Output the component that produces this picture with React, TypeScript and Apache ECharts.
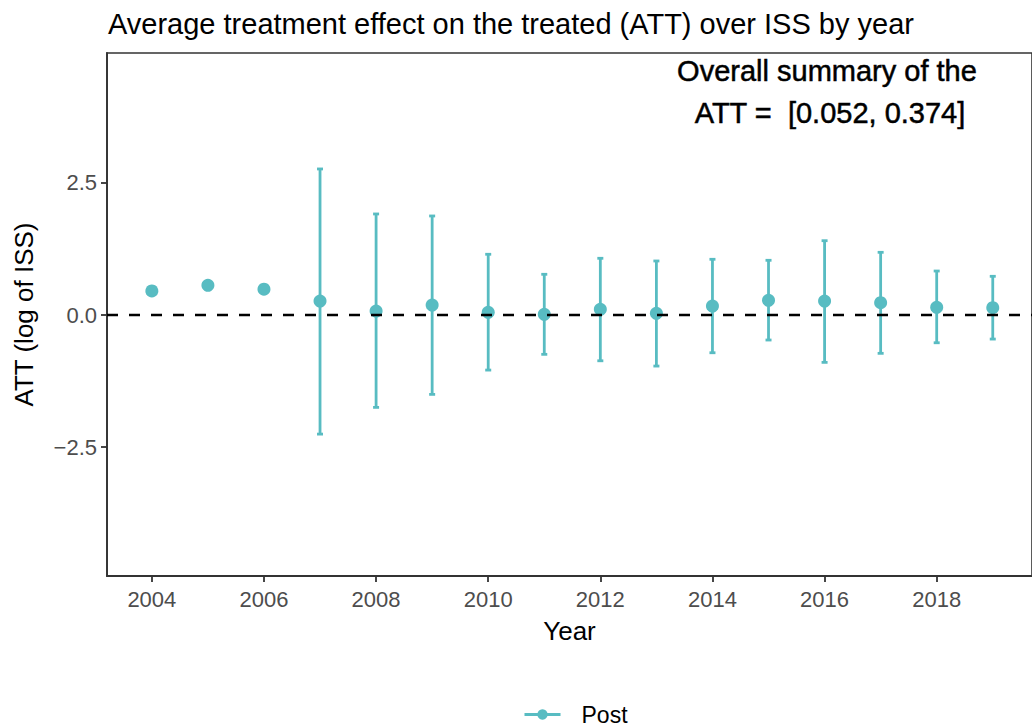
import React, { useEffect, useRef } from "react";
import * as echarts from "echarts";

const years = [2004, 2005, 2006, 2007, 2008, 2009, 2010, 2011, 2012, 2013, 2014, 2015, 2016, 2017, 2018, 2019];
const att = [0.455, 0.562, 0.49, 0.265, 0.076, 0.189, 0.051, 0.013, 0.108, 0.032, 0.17, 0.278, 0.265, 0.233, 0.146, 0.138];
const lower = [0.43, 0.5, 0.44, -2.254, -1.748, -1.502, -1.042, -0.744, -0.866, -0.966, -0.714, -0.473, -0.896, -0.725, -0.525, -0.455];
const upper = [0.48, 0.62, 0.56, 2.765, 1.913, 1.875, 1.15, 0.771, 1.074, 1.023, 1.055, 1.036, 1.407, 1.187, 0.833, 0.733];
const xTicks = [2004, 2006, 2008, 2010, 2012, 2014, 2016, 2018];
const yTicks = [-2.5, 0, 2.5];
const seriesName = "Post";
const titleText = "Average treatment effect on the treated (ATT) over ISS by year";
const annotLines = ["Overall summary of the", "ATT =  [0.052, 0.374]"];

const COLOR = "#58BCC2";

export default function App() {
  const ref = useRef<HTMLDivElement>(null);
  useEffect(() => {
    const chart = echarts.init(ref.current!, null, { renderer: "svg" });
    const xMin = 2003.2;
    const xMax = 2019.7;
    const annotStyle = {
      align: "center",
      verticalAlign: "middle",
      fontFamily: "Liberation Sans",
      fontSize: 29,
      fill: "#000",
      stroke: "#000",
      lineWidth: 0.5,
    };
    chart.setOption({
      animation: false,
      backgroundColor: "#fff",
      title: {
        text: titleText,
        left: 103,
        top: 4,
        textStyle: { fontFamily: "Liberation Sans", fontSize: 29, fontWeight: "normal", color: "#000" },
      },
      grid: {
        left: 107,
        top: 53,
        right: -1,
        height: 523,
        show: true,
        borderColor: "#333",
        borderWidth: 1.6,
        backgroundColor: "transparent",
      },
      legend: {
        data: [seriesName],
        left: 518,
        top: 698,
        itemWidth: 36,
        itemHeight: 13,
        itemGap: 10,
        textStyle: { fontFamily: "Liberation Sans", fontSize: 23, color: "#000", padding: [0, 0, 0, 16] },
        lineStyle: { width: 3, opacity: 1, color: COLOR },
      },
      xAxis: {
        type: "value",
        min: xMin,
        max: xMax,
        name: "Year",
        nameLocation: "middle",
        nameGap: 42,
        nameTextStyle: { fontFamily: "Liberation Sans", fontSize: 26, color: "#000" },
        axisLine: { show: true, onZero: false, lineStyle: { color: "#333", width: 1.8 } },
        axisTick: { show: true, length: 6, customValues: xTicks, lineStyle: { color: "#333", width: 1.8 } },
        axisLabel: {
          customValues: xTicks,
          fontFamily: "Liberation Sans",
          fontSize: 22,
          color: "#4D4D4D",
          margin: 12,
          formatter: (v: number) => String(v),
        },
        splitLine: { show: false },
      },
      yAxis: {
        type: "value",
        min: -4.94,
        max: 4.96,
        name: "ATT (log of ISS)",
        nameLocation: "middle",
        nameGap: 70,
        nameRotate: 90,
        nameTextStyle: { fontFamily: "Liberation Sans", fontSize: 26, color: "#000" },
        axisLine: { show: true, onZero: false, lineStyle: { color: "#333", width: 1.8 } },
        axisTick: { show: true, length: 6, customValues: yTicks, lineStyle: { color: "#333", width: 1.8 } },
        axisLabel: {
          customValues: yTicks,
          fontFamily: "Liberation Sans",
          fontSize: 22,
          color: "#4D4D4D",
          margin: 10,
          formatter: (v: number) => (v < 0 ? "\u2212" + Math.abs(v).toFixed(1) : v.toFixed(1)),
        },
        splitLine: { show: false },
      },
      series: [
        {
          type: "custom",
          name: "errbar",
          z: 2,
          data: years.map((y, i) => [y, lower[i], upper[i]]),
          encode: { x: 0, y: [1, 2] },
          renderItem: (params: any, api: any) => {
            const x = api.value(0);
            const lo = api.coord([x, api.value(1)]);
            const hi = api.coord([x, api.value(2)]);
            const half = 3;
            const style = { stroke: COLOR, lineWidth: 2.8 };
            return {
              type: "group",
              children: [
                { type: "line", shape: { x1: lo[0], y1: lo[1], x2: hi[0], y2: hi[1] }, style },
                { type: "line", shape: { x1: lo[0] - half, y1: lo[1], x2: lo[0] + half, y2: lo[1] }, style },
                { type: "line", shape: { x1: hi[0] - half, y1: hi[1], x2: hi[0] + half, y2: hi[1] }, style },
              ],
            };
          },
        },
        {
          type: "line",
          name: seriesName,
          z: 3,
          data: years.map((y, i) => [y, att[i]]),
          symbol: "circle",
          symbolSize: 13,
          showSymbol: true,
          itemStyle: { color: COLOR },
          lineStyle: { opacity: 0, width: 0 },
        },
        {
          type: "line",
          name: "zero",
          z: 4,
          data: [[xMin, 0], [xMax, 0]],
          symbol: "none",
          lineStyle: { color: "#000", width: 2.6, type: [11, 11] },
          silent: true,
        },
      ],
      graphic: [
        { type: "text", style: { ...annotStyle, text: annotLines[0], x: 827, y: 71 } },
        { type: "text", style: { ...annotStyle, text: annotLines[1], x: 830, y: 113 } },
      ],
    });
    return () => chart.dispose();
  }, []);
  return (
    <div
      ref={ref}
      style={{ position: "fixed", left: 0, top: 0, width: 1032, height: 727, background: "#fff" }}
    />
  );
}
